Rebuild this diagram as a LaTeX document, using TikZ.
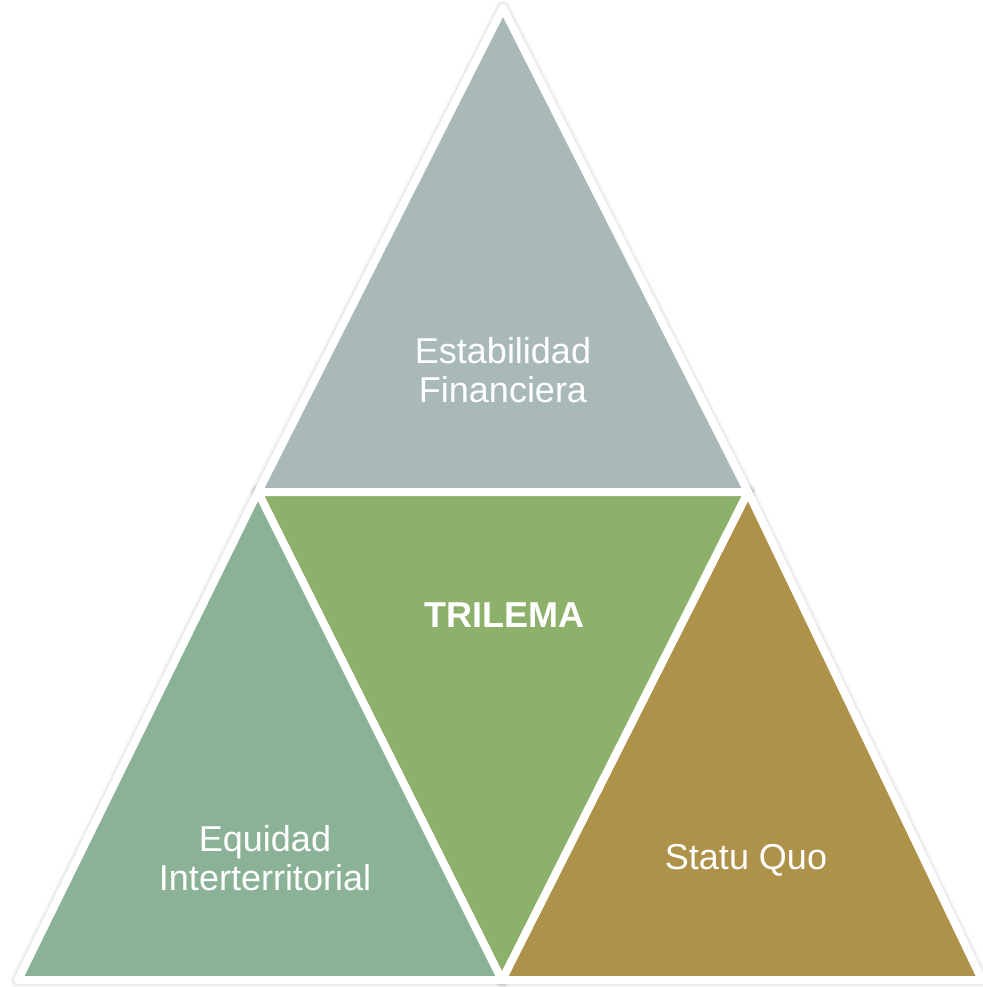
\documentclass[tikz,border=0pt]{standalone}
\usepackage{fontspec}
\setmainfont{Liberation Sans}
\definecolor{topc}{RGB}{169,184,184}
\definecolor{midc}{RGB}{141,176,107}
\definecolor{leftc}{RGB}{139,178,151}
\definecolor{rightc}{RGB}{175,146,73}
\tikzset{
  tri/.style={draw=white, line width=8pt, line join=round},
  shade1/.style={draw=black, draw opacity=0.035, line width=15pt, line join=round},
  shade2/.style={draw=black, draw opacity=0.05, line width=11pt, line join=round},
  lbl/.style={text=white, font=\fontsize{36}{39}\selectfont, align=center, inner sep=0pt}
}
\begin{document}
\begin{tikzpicture}[x=1pt, y=-1pt]
\useasboundingbox (0,0) rectangle (982,987);
\coordinate (A) at (503,8);
\coordinate (L) at (258,492);
\coordinate (R) at (748,492);
\coordinate (B) at (502,980);
\coordinate (BL) at (18,980);
\coordinate (BR) at (982,980);
% soft shadows
\begin{scope}[shift={(2,2.5)}]
  \foreach \p in {{(A) -- (L) -- (R) -- cycle},{(L) -- (BL) -- (B) -- cycle},{(R) -- (B) -- (BR) -- cycle},{(L) -- (R) -- (B) -- cycle}}{
    \path[shade1] \p;
    \path[shade2] \p;
  }
\end{scope}
% triangles
\path[tri, fill=leftc] (L) -- (BL) -- (B) -- cycle;
\path[tri, fill=rightc] (R) -- (B) -- (BR) -- cycle;
\path[tri, fill=topc] (A) -- (L) -- (R) -- cycle;
\path[tri, fill=midc] (L) -- (R) -- (B) -- cycle;
% labels
\node[lbl] (top) at (503,370.5) {Estabilidad\\Financiera};
\node[lbl, font=\fontsize{36}{39}\selectfont\bfseries, anchor=base] (mid) at (504,627) {TRILEMA};
\node[lbl] (left) at (265,858) {Equidad\\Interterritorial};
\node[lbl, anchor=base] (right) at (746,869) {Statu Quo};
\end{tikzpicture}
\end{document}
